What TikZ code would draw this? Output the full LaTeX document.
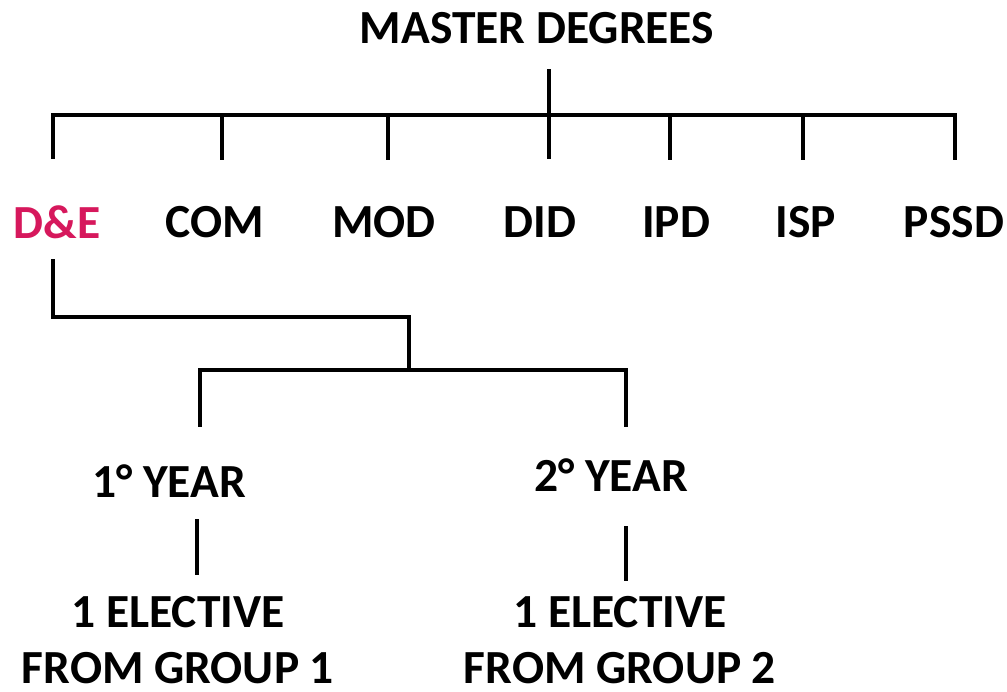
\documentclass[tikz,border=0pt]{standalone}
\usepackage{fontspec}
\setmainfont{Carlito}
\definecolor{de}{RGB}{214,24,92}
\begin{document}
\begin{tikzpicture}[x=1pt,y=-1pt,
  lbl/.style={font=\fontsize{47.5}{57}\selectfont\bfseries, inner sep=0pt, align=center},
  ln/.style={line width=3.5pt, line cap=rect}]
\useasboundingbox (0,0) rectangle (1007,691);
\node[lbl] (master) at (537,28) {MASTER DEGREES};
\node[lbl, text=de] (de) at (57,222) {D\&E};
\node[lbl] (com) at (215,222) {COM};
\node[lbl] (mod) at (384,222) {MOD};
\node[lbl] (did) at (540,222) {DID};
\node[lbl] (ipd) at (676,222) {IPD};
\node[lbl] (isp) at (806,222) {ISP};
\node[lbl] (pssd) at (954,222) {PSSD};
\node[lbl] (y1) at (169,481) {1° YEAR};
\node[lbl] (y2) at (611,475) {2° YEAR};
\node[lbl] (e1a) at (178,612) {1 ELECTIVE};
\node[lbl] (e1b) at (178,668) {FROM GROUP 1};
\node[lbl] (e2a) at (620,612) {1 ELECTIVE};
\node[lbl] (e2b) at (620,668) {FROM GROUP 2};
% top tree
\coordinate (mtop) at (549,71);
\draw[ln] (mtop) -- (549,157);
\draw[ln] (53,157) -- (53,115) -- (955,115) -- (955,158);
\foreach \x in {222,388,670,803} \draw[ln] (\x,115) -- (\x,158);
% D&E subtree
\draw[ln] (53,261) -- (53,317) -- (409,317) -- (409,370);
\draw[ln] (200,425) -- (200,370) -- (626,370) -- (626,425);
\draw[ln] (197,521) -- (197,573);
\draw[ln] (626,528) -- (626,579);
\end{tikzpicture}
\end{document}
